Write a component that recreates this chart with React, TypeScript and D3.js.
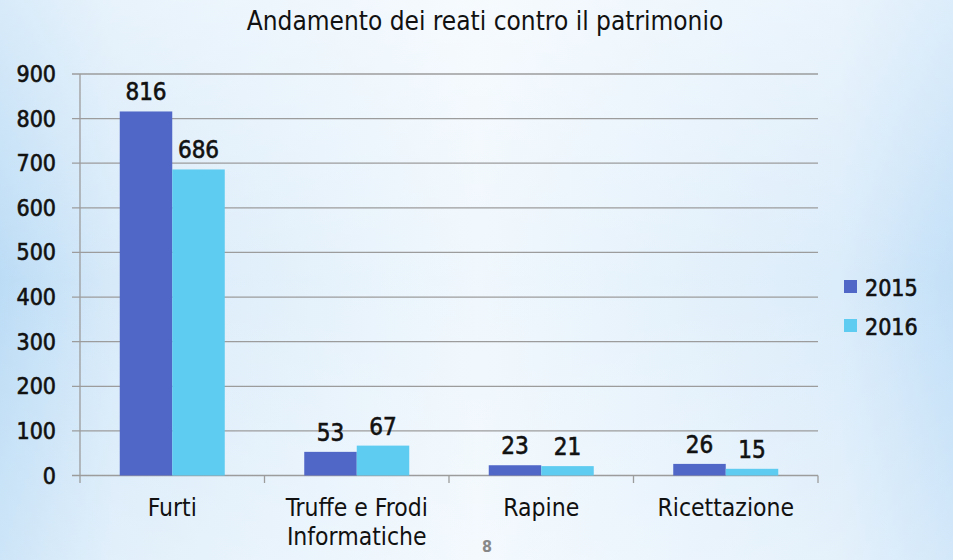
import React from "react";
import * as d3 from "d3";

const categories = ["Furti", "Truffe e Frodi\nInformatiche", "Rapine", "Ricettazione"];
const seriesNames = ["2015", "2016"];
const values2015 = [816, 53, 23, 26];
const values2016 = [686, 67, 21, 15];
const yTicks = [0, 100, 200, 300, 400, 500, 600, 700, 800, 900];
const colors = ["#5067c7", "#5ecbf1"];

const W = 953;
const H = 560;
const FONT = "'DejaVu Sans Condensed', 'DejaVu Sans', sans-serif";

export default function App() {
  const x0 = d3.scaleBand<string>().domain(categories).range([80, 818]).paddingInner(0).paddingOuter(0);
  const x1 = d3.scaleBand<string>().domain(seriesNames).range([0, x0.bandwidth()]).paddingInner(0).paddingOuter(0.757);
  const y = d3.scaleLinear().domain([0, 900]).range([475.5, 74]);
  const series = [values2015, values2016];

  return (
    <svg width={W} height={H} style={{ position: "absolute", left: 0, top: 0 }}>
      <defs>
        <linearGradient id="bgH" x1="0" x2="1" y1="0" y2="0">
          <stop offset="0" stopColor="#b8daf5" />
          <stop offset="0.12" stopColor="#d5e9f9" />
          <stop offset="0.5" stopColor="#eff7fd" />
          <stop offset="0.88" stopColor="#d9ebfa" />
          <stop offset="1" stopColor="#c0def7" />
        </linearGradient>
        <linearGradient id="bgV" x1="0" x2="0" y1="0" y2="1">
          <stop offset="0" stopColor="#ffffff" stopOpacity="0.45" />
          <stop offset="0.5" stopColor="#ffffff" stopOpacity="0.05" />
          <stop offset="1" stopColor="#ffffff" stopOpacity="0.3" />
        </linearGradient>
      </defs>
      <rect x={0} y={0} width={W} height={H} fill="url(#bgH)" />
      <rect x={0} y={0} width={W} height={H} fill="url(#bgV)" />

      <text x={485} y={30} textAnchor="middle" fontFamily={FONT} fontSize={26} fill="#111">
        Andamento dei reati contro il patrimonio
      </text>

      {yTicks.map((t) => (
        <g key={t}>
          <line x1={72} x2={818} y1={y(t)} y2={y(t)} stroke="#9c9c9c" strokeWidth={1.3} />
          <text x={56} y={y(t) + 8} textAnchor="end" fontFamily={FONT} fontSize={23} fill="#111" stroke="#111" strokeWidth={0.6}>
            {t}
          </text>
        </g>
      ))}
      <line x1={80} x2={80} y1={74} y2={483} stroke="#9c9c9c" strokeWidth={1.3} />
      {categories.map((c, i) => (
        <line key={"t" + i} x1={(x0(c) ?? 0) + x0.bandwidth()} x2={(x0(c) ?? 0) + x0.bandwidth()} y1={475.5} y2={483} stroke="#9c9c9c" strokeWidth={1.3} />
      ))}

      {categories.map((c, ci) => (
        <g key={c} transform={`translate(${x0(c)},0)`}>
          {seriesNames.map((s, si) => {
            const v = series[si][ci];
            const bx = x1(s) ?? 0;
            return (
              <g key={s}>
                <rect x={bx} y={y(v)} width={x1.bandwidth()} height={y(0) - y(v)} fill={colors[si]} />
                <text x={bx + x1.bandwidth() / 2} y={y(v) - 11} textAnchor="middle" fontFamily={FONT} fontSize={24} fill="#111" stroke="#111" strokeWidth={0.6}>
                  {v}
                </text>
              </g>
            );
          })}
          {c.split("\n").map((line, li) => (
            <text key={li} x={x0.bandwidth() / 2} y={516 + li * 28.5} textAnchor="middle" fontFamily={FONT} fontSize={24.5} fill="#111">
              {line}
            </text>
          ))}
        </g>
      ))}

      {seriesNames.map((s, si) => (
        <g key={s}>
          <rect x={844} y={280 + si * 39} width={13} height={13} fill={colors[si]} />
          <text x={865} y={296 + si * 39} fontFamily={FONT} fontSize={23} fill="#111" stroke="#111" strokeWidth={0.6}>
            {s}
          </text>
        </g>
      ))}

      <text x={487} y={552} textAnchor="middle" fontFamily={FONT} fontSize={16} fontWeight="bold" fill="#888">
        8
      </text>
    </svg>
  );
}
